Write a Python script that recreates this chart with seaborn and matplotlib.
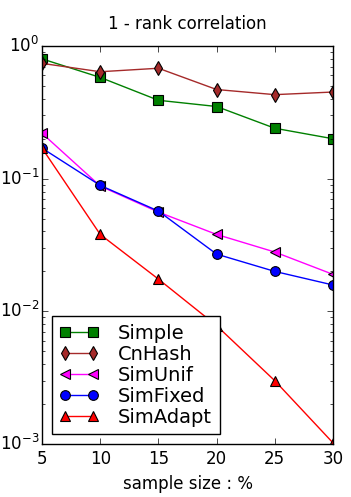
import matplotlib
matplotlib.use("Agg")
import matplotlib.pyplot as plt
import seaborn as sns

# sample sizes (%)
sizes = [5, 10, 15, 20, 25, 30]

simple = [0.80, 0.58, 0.39, 0.35, 0.24, 0.20]
cnhash = [0.74, 0.64, 0.68, 0.47, 0.43, 0.45]
simunif = [0.22, 0.088, 0.056, 0.038, 0.028, 0.019]
simfixed = [0.17, 0.089, 0.057, 0.027, 0.020, 0.0158]
simadapt = [0.17, 0.038, 0.0175, 0.0078, 0.0030, 0.00102]

names = ["Simple", "CnHash", "SimUnif", "SimFixed", "SimAdapt"]
series = [simple, cnhash, simunif, simfixed, simadapt]
colors = ["green", "#a52a2a", "magenta", "blue", "red"]
markers = ["s", "d", "<", "o", "^"]


def main():
    plt.style.use("classic")
    fig = plt.figure(figsize=(3.51, 4.97), dpi=100, facecolor="white")
    ax = fig.add_axes([0.1197, 0.1066, 0.8290, 0.8008])

    for name, vals, c, m in zip(names, series, colors, markers):
        sns.lineplot(x=sizes, y=vals, ax=ax, label=name, color=c, marker=m,
                     markersize=7, markeredgecolor="black", markeredgewidth=0.8,
                     linewidth=1)

    ax.set_yscale("log")
    ax.set_ylim(1e-3, 1)
    ax.set_xlim(5, 30)
    ax.set_xticks([5, 10, 15, 20, 25, 30])

    ax.set_title("1 - rank correlation", fontsize=12, pad=12)
    ax.set_xlabel("sample size : %", fontsize=12)
    ax.set_ylabel(None)
    ax.tick_params(labelsize=12)
    ax.tick_params(axis="y", which="major", pad=2)

    ax.legend(loc="lower left", fontsize=14, numpoints=2, fancybox=False,
              labelspacing=0.1, handletextpad=1.0, borderpad=0.4)

    plt.savefig("out.png", dpi=100, facecolor="white")


main()
